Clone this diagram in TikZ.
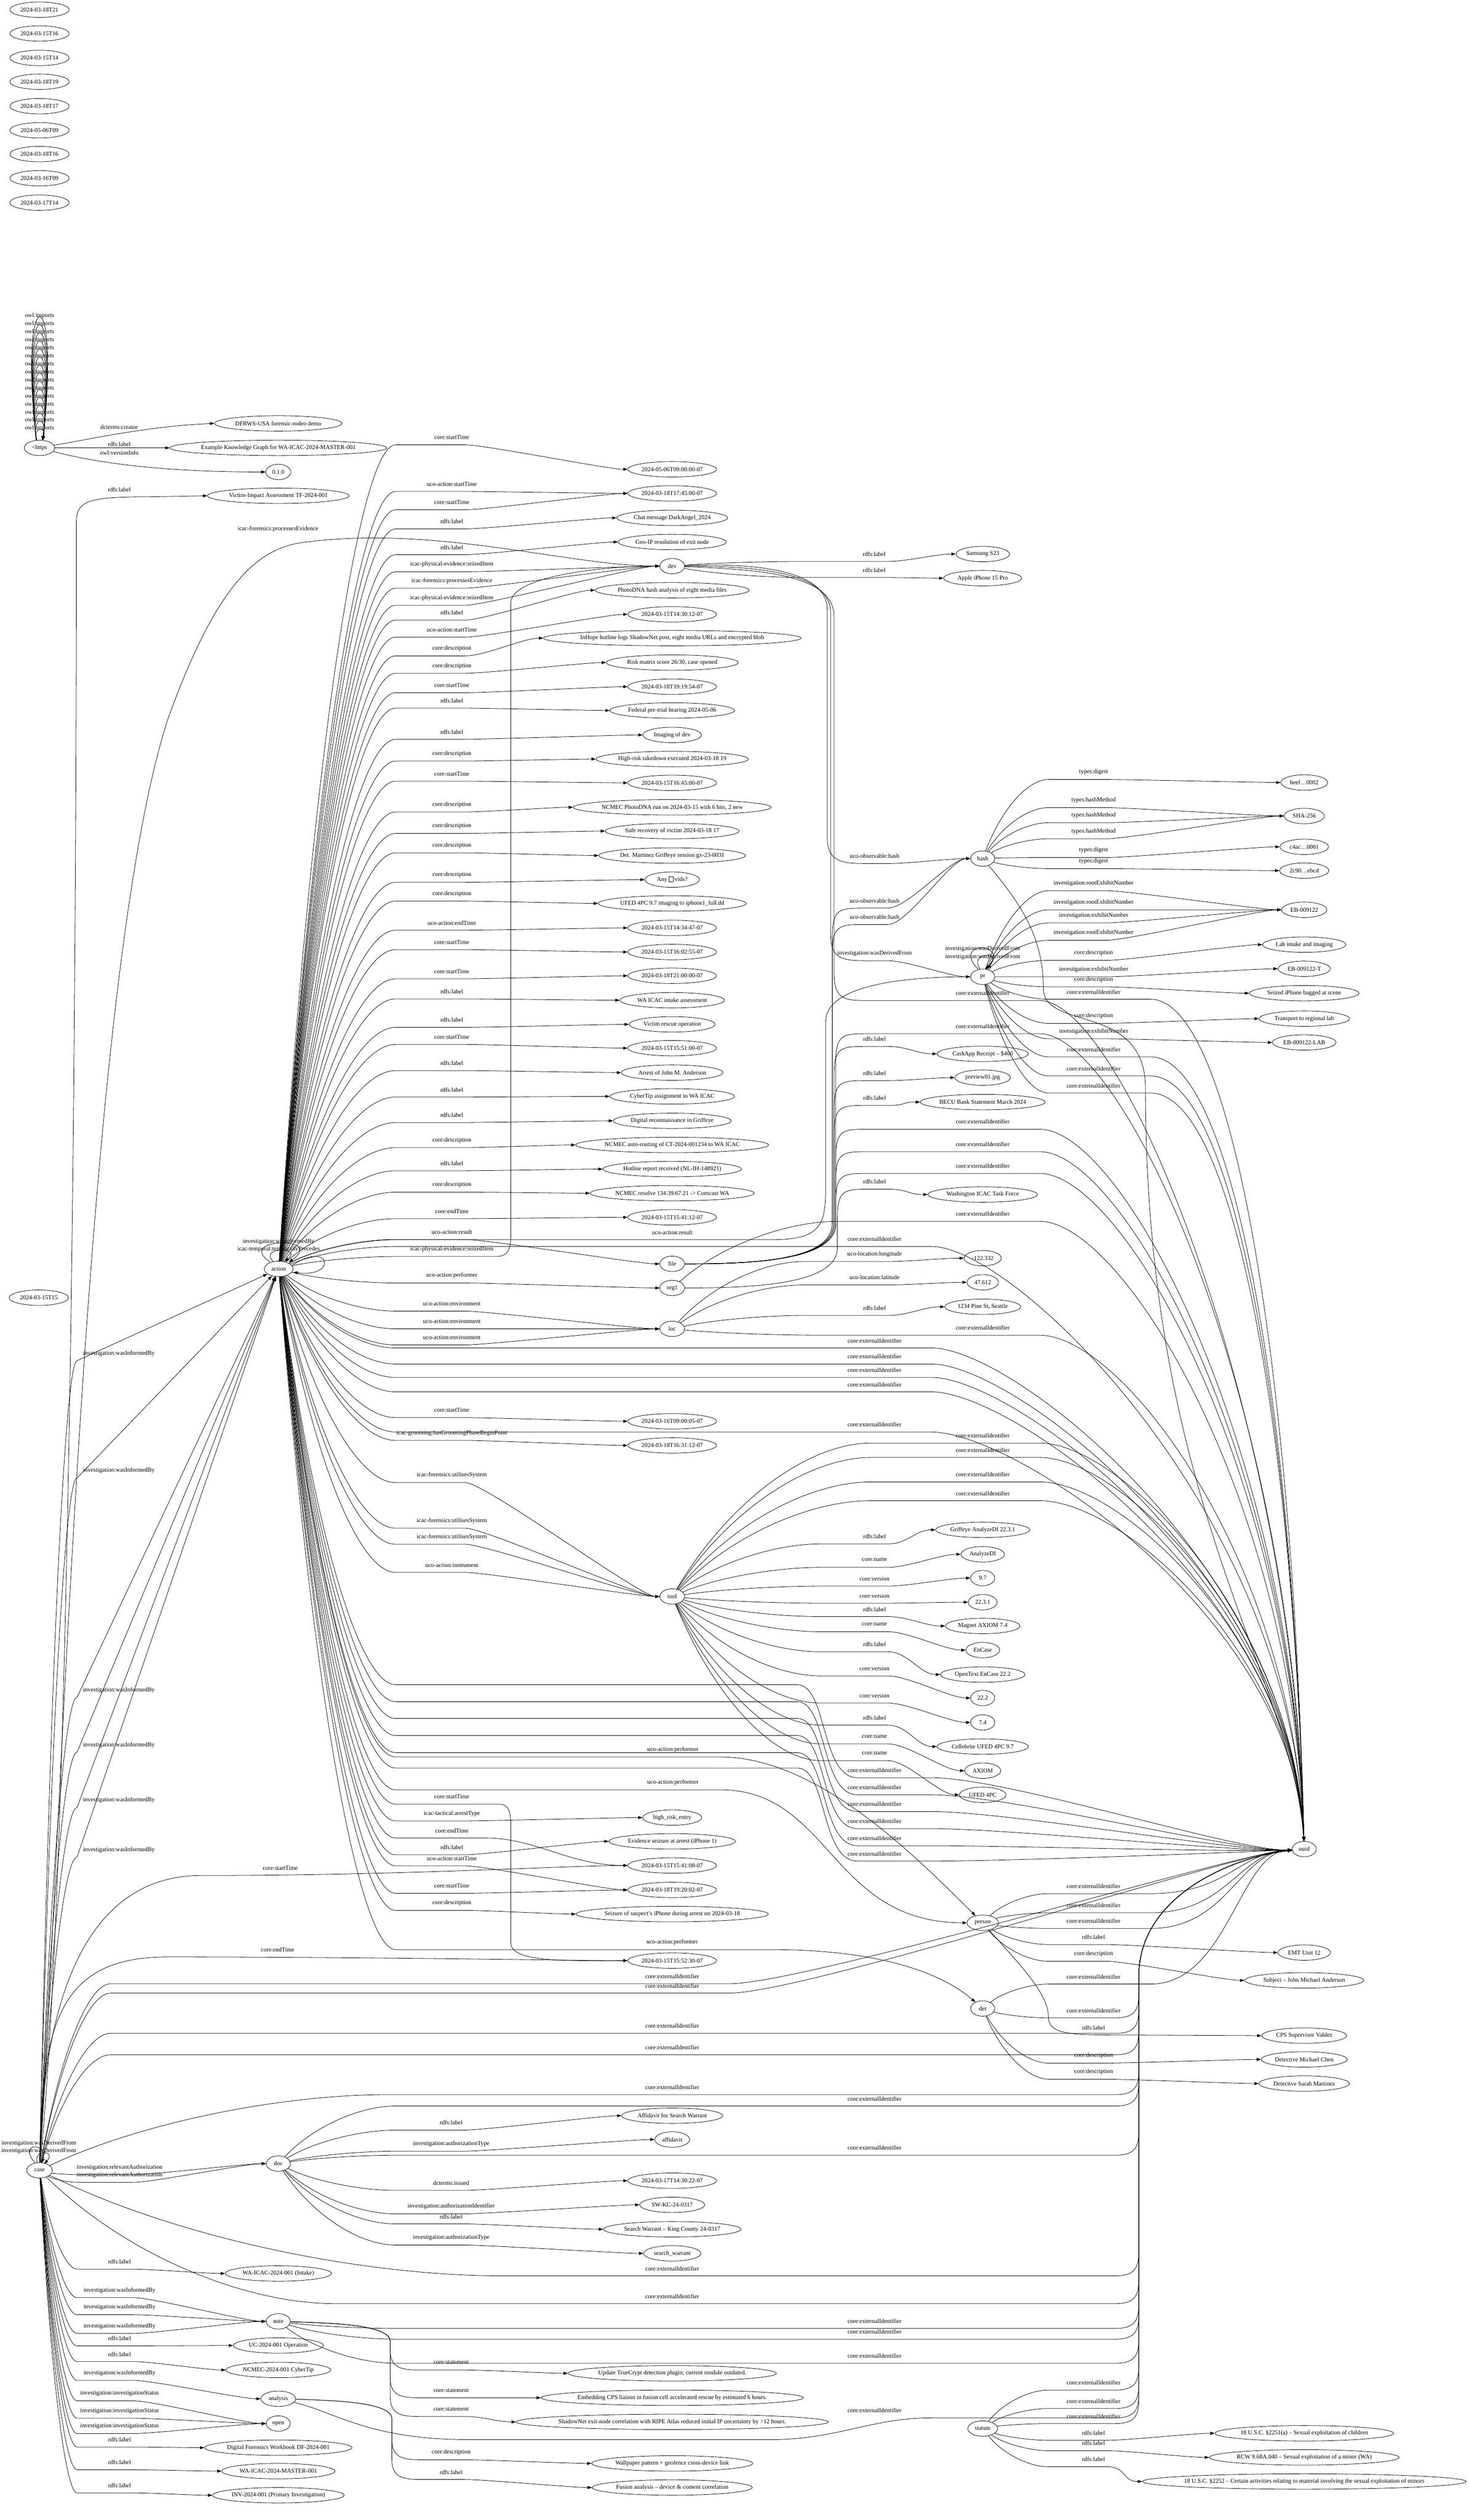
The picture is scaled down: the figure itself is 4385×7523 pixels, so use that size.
\documentclass[tikz,border=0pt]{standalone}
\usepackage{fontspec}
\setmainfont{Liberation Serif}
\usetikzlibrary{shapes.geometric,arrows.meta,calc}
\newcommand\fs{\fontsize{18}{21}\selectfont}
\newcommand\tofubox{{\setlength\fboxsep{0pt}\setlength\fboxrule{0.9pt}\fbox{\rule{0pt}{13pt}\hspace{12pt}}}}
\tikzset{
 e/.style={line width=1.2pt,-{Triangle[length=13pt,width=9pt]}},
 nd/.style={draw,line width=1.2pt,ellipse,inner sep=0pt,minimum height=46pt,font=\fs},
 lbl/.style={inner sep=0pt,font=\fs},
}
\newcommand\mynode[5]{\node[nd,minimum width=#4pt] (#1) at (#2,#3) {\makebox[0pt]{#5}};}
\newcommand\mylbl[3]{\node[lbl] at (#1,#2) {#3};}
\newcommand\efan[4]{%
 \pgfmathsetmacro\eyp{#4+22}%
 \pgfmathsetmacro\eax{#1+0.3*(#3-#1)}%
 \pgfmathsetmacro\eay{#2+0.65*(\eyp-#2)}%
 \pgfmathsetmacro\ebx{#1+0.7*(#3-#1)}}
% S sx sy kx lx ly T text
\newcommand\edg[8]{\efan{#2}{#3}{#4}{#6}%
 \pgfmathsetmacro\ehx{#5+40}\pgfmathsetmacro\ehc{#5+100}%
 \draw[e] (#1) .. controls (\eax,\eay) and (\ebx,\eyp) .. (#4,\eyp) -- (\ehx,\eyp) .. controls (\ehc,\eyp) and ($(#7.west)+(-60,0)$) .. (#7.west);
 \mylbl{#5}{#6}{#8}}
\newcommand\edgs[8]{\efan{#2}{#3}{#4}{#6}%
 \draw[e] (#1) .. controls (\eax,\eay) and (\ebx,\eyp) .. (#4,\eyp) -- (#7);
 \mylbl{#5}{#6}{#8}}
% vertical-knee edge going down: S sy vx lx ly T text
\newcommand\edv[7]{%
 \pgfmathsetmacro\eyp{#5+22}\pgfmathsetmacro\eyq{\eyp-60}\pgfmathsetmacro\eya{#2+5}\pgfmathsetmacro\eyb{#2+60}\pgfmathsetmacro\eyc{#2+10}%
 \pgfmathsetmacro\ehx{#4+40}\pgfmathsetmacro\ehc{#4+100}\pgfmathsetmacro\evx{#3+40}\pgfmathsetmacro\evy{#3-170}\pgfmathsetmacro\evz{#3+100}%
 \draw[e] (#1) .. controls (\evy,\eya) and (#3,\eyc) .. (#3,\eyb) -- (#3,\eyq) .. controls (#3,\eyp) and (\evx,\eyp) .. (\evz,\eyp) -- (\ehx,\eyp) .. controls (\ehc,\eyp) and ($(#6.west)+(-60,0)$) .. (#6.west);
 \mylbl{#4}{#5}{#7}}
% uuid edges: S sx sy kx lx ly
\newcommand\ueA[6]{\efan{#2}{#3}{#4}{#6}%
 \pgfmathsetmacro\ehx{#5+170}\pgfmathsetmacro\ehc{#5+420}\pgfmathsetmacro\eyc{\eyp+0.45*(5497-\eyp)}%
 \draw[e] (#1) .. controls (\eax,\eay) and (\ebx,\eyp) .. (#4,\eyp) -- (\ehx,\eyp) .. controls (\ehc,\eyp) and (3860,\eyc) .. (uuid);
 \mylbl{#5}{#6}{core:externalIdentifier}}
\newcommand\ueM[6]{\efan{#2}{#3}{#4}{#6}%
 \pgfmathsetmacro\ehx{#5+170}\pgfmathsetmacro\ehc{#5+400}%
 \draw[e] (#1) .. controls (\eax,\eay) and (\ebx,\eyp) .. (#4,\eyp) -- (\ehx,\eyp) .. controls (\ehc,\eyp) and (3700,5530) .. (uuid);
 \mylbl{#5}{#6}{core:externalIdentifier}}
\newcommand\ueMb[6]{\pgfmathsetmacro\eyq{#6-278}\efan{#2}{#3}{#4}{\eyq}%
 \pgfmathsetmacro\eyr{#6+22}\pgfmathsetmacro\ehx{#5+170}\pgfmathsetmacro\ehc{#5+400}%
 \draw[e] (#1) .. controls (\eax,\eay) and (\ebx,\eyp) .. (#4,\eyp) -- (2380,\eyp) .. controls (2470,\eyp) and (2450,\eyr) .. (2560,\eyr) -- (\ehx,\eyr) .. controls (\ehc,\eyr) and (3700,5530) .. (uuid);
 \mylbl{#5}{#6}{core:externalIdentifier}}
\newcommand\ueB[6]{\efan{#2}{#3}{#4}{#6}%
 \pgfmathsetmacro\eyu{\eyp-30}\pgfmathsetmacro\eyv{\eyp-80}%
 \draw[e] (#1) .. controls (\eax,\eay) and (\ebx,\eyp) .. (#4,\eyp) -- (3330,\eyp) .. controls (3395,\eyp) and (3400,\eyu) .. (3400,\eyv) -- (3400,5900) .. controls (3400,5650) and (3700,5540) .. (uuid);
 \mylbl{#5}{#6}{core:externalIdentifier}}
% bundle up: S sy bx lx ly T text
\newcommand\ebu[7]{%
 \pgfmathsetmacro\eyp{#5+22}\pgfmathsetmacro\eya{#2-10}\pgfmathsetmacro\eyb{#2-120}\pgfmathsetmacro\eyq{\eyp+90}%
 \pgfmathsetmacro\ehx{#4+40}\pgfmathsetmacro\ehc{#4+100}\pgfmathsetmacro\ebb{#3+20}\pgfmathsetmacro\ebc{#3+100}%
 \draw[e] (#1) .. controls (2250,#2) and (#3,\eya) .. (#3,\eyb) -- (#3,\eyq) .. controls (#3,\eyp) and (\ebb,\eyp) .. (\ebc,\eyp) -- (\ehx,\eyp) .. controls (\ehc,\eyp) and ($(#6.west)+(-60,0)$) .. (#6.west);
 \mylbl{#4}{#5}{#7}}
\newcommand\ebuu[5]{%
 \pgfmathsetmacro\eyp{#5+22}\pgfmathsetmacro\eya{#2-10}\pgfmathsetmacro\eyb{#2-120}\pgfmathsetmacro\eyq{\eyp+90}%
 \pgfmathsetmacro\ehx{#4+170}\pgfmathsetmacro\ehc{#4+420}\pgfmathsetmacro\ebb{#3+20}\pgfmathsetmacro\ebc{#3+100}%
 \pgfmathsetmacro\eyc{\eyp+0.45*(5497-\eyp)}%
 \draw[e] (#1) .. controls (2250,#2) and (#3,\eya) .. (#3,\eyb) -- (#3,\eyq) .. controls (#3,\eyp) and (\ebb,\eyp) .. (\ebc,\eyp) -- (\ehx,\eyp) .. controls (\ehc,\eyp) and (3860,\eyc) .. (uuid);
 \mylbl{#4}{#5}{core:externalIdentifier}}
\begin{document}
\begin{tikzpicture}[x=1pt,y=-1pt]
\fill[white] (0,0) rectangle (4385,7523);
\useasboundingbox (0,0) rectangle (4385,7523);
% ---------- nodes: left ----------
\mynode{d1}{118}{29}{177}{2024-03-18T21}
\mynode{d2}{118}{100}{177}{2024-03-15T16}
\mynode{d3}{118}{173}{177}{2024-03-15T14}
\mynode{d4}{118}{244}{177}{2024-03-18T19}
\mynode{d5}{118}{317}{177}{2024-03-18T17}
\mynode{d6}{118}{389}{177}{2024-05-06T09}
\mynode{d7}{118}{460}{177}{2024-03-18T16}
\mynode{d8}{118}{532}{177}{2024-03-16T09}
\mynode{d9}{118}{605}{177}{2024-03-17T14}
\mynode{https}{118}{1337}{91}{<https}
\mynode{d15}{116}{3874}{177}{2024-03-15T15}
\mynode{case}{118}{6479}{76}{case}
% ---------- column 831 ----------
\mynode{dfrws}{831}{1264}{381}{DFRWS-USA forensic-rodeo demo}
\mynode{ekg}{831}{1337}{648}{Example Knowledge Graph for WA-ICAC-2024-MASTER-001}
\mynode{ver}{831}{1409}{75}{0.1.0}
\mynode{via}{831}{1480}{423}{Victim-Impact Assessment TF-2024-001}
\mynode{action}{832}{3788}{86}{action}
\mynode{doc}{831}{6459}{72}{doc}
\mynode{intake}{831}{6787}{317}{WA-ICAC-2024-001 (Intake)}
\mynode{note}{831}{6930}{72}{note}
\mynode{ucop}{831}{7002}{269}{UC-2024-001 Operation}
\mynode{ncmecct}{831}{7075}{313}{NCMEC-2024-001 CyberTip}
\mynode{analysis}{831}{7161}{104}{analysis}
\mynode{open}{831}{7235}{72}{open}
\mynode{dfwb}{831}{7307}{440}{Digital Forensics Workbook DF-2024-001}
\mynode{master}{831}{7377}{338}{WA-ICAC-2024-MASTER-001}
\mynode{inv}{831}{7449}{393}{INV-2024-001 (Primary Investigation)}
% ---------- column 2007 ----------
\mynode{t01}{2007}{1401}{265}{2024-05-06T09:00:00-07}
\mynode{t02}{2007}{1473}{265}{2024-03-18T17:45:00-07}
\mynode{chat}{2007}{1546}{331}{Chat message DarkAngel\_2024}
\mynode{geo}{2007}{1618}{323}{Geo-IP resolution of exit node}
\mynode{dev}{2007}{1690}{74}{dev}
\mynode{photodna}{2007}{1762}{460}{PhotoDNA hash analysis of eight media files}
\mynode{t03}{2007}{1834}{265}{2024-03-15T14:30:12-07}
\mynode{inhope}{2007}{1905}{769}{InHope hotline logs ShadowNet post, eight media URLs and encrypted blob}
\mynode{risk}{2007}{1978}{394}{Risk matrix score 26/30, case opened}
\mynode{t04}{2007}{2050}{265}{2024-03-18T19:19:54-07}
\mynode{federal}{2007}{2121}{372}{Federal pre-trial hearing 2024-05-06}
\mynode{imaging}{2007}{2194}{175}{Imaging of dev}
\mynode{highrisk}{2007}{2266}{455}{High-risk takedown executed 2024-03-18 19}
\mynode{t05}{2007}{2337}{265}{2024-03-15T16:45:00-07}
\mynode{ncmecpd}{2007}{2410}{591}{NCMEC PhotoDNA run on 2024-03-15 with 6 hits, 2 new}
\mynode{safe}{2007}{2481}{400}{Safe recovery of victim 2024-03-18 17}
\mynode{detm}{2007}{2554}{438}{Det. Martinez Griffeye session gx-23-0031}
\mynode{anyv}{2007}{2626}{163}{Any \tofubox{} vids?}
\mynode{ufedimg}{2007}{2697}{442}{UFED 4PC 9.7 imaging to iphone1\_full.dd}
\mynode{t06}{2007}{2770}{265}{2024-03-15T14:34:47-07}
\mynode{t07}{2007}{2842}{265}{2024-03-15T16:02:55-07}
\mynode{t08}{2007}{2913}{265}{2024-03-18T21:00:00-07}
\mynode{waintake}{2007}{2986}{312}{WA ICAC intake assessment}
\mynode{rescue}{2007}{3058}{257}{Victim rescue operation}
\mynode{t09}{2007}{3129}{265}{2024-03-15T15:51:00-07}
\mynode{arrest}{2007}{3202}{304}{Arrest of John M. Anderson}
\mynode{cybertip}{2007}{3273}{372}{CyberTip assignment to WA ICAC}
\mynode{recon}{2007}{3346}{352}{Digital reconnaissance in Griffeye}
\mynode{autoroute}{2007}{3418}{576}{NCMEC auto-routing of CT-2024-001234 to WA ICAC}
\mynode{hotline}{2007}{3490}{414}{Hotline report received (NL-IH-148921)}
\mynode{resolve}{2007}{3562}{490}{NCMEC resolve 134.39.67.21 -> Comcast WA}
\mynode{t10}{2007}{3634}{265}{2024-03-15T15:41:12-07}
\mynode{file}{2007}{3773}{74}{file}
\mynode{org1}{2007}{3845}{74}{org1}
\mynode{loc}{2007}{3967}{74}{loc}
\mynode{t11}{2007}{4243}{265}{2024-03-16T09:00:05-07}
\mynode{t12}{2007}{4315}{265}{2024-03-18T16:31:12-07}
\mynode{tool}{2007}{4766}{74}{tool}
\mynode{hre}{2007}{5426}{176}{high\_risk\_entry}
\mynode{evseiz}{2007}{5497}{378}{Evidence seizure at arrest (iPhone 1)}
\mynode{t13}{2007}{5569}{265}{2024-03-15T15:41:08-07}
\mynode{t14}{2007}{5642}{265}{2024-03-18T19:20:02-07}
\mynode{seizure}{2007}{5714}{574}{Seizure of suspect's iPhone during arrest on 2024-03-18}
\mynode{t15}{2007}{5853}{265}{2024-03-15T15:52:30-07}
\mynode{affid}{2007}{6316}{302}{Affidavit for Search Warrant}
\mynode{affidavit}{2007}{6387}{104}{affidavit}
\mynode{t16}{2007}{6510}{265}{2024-03-17T14:30:22-07}
\mynode{swkc}{2007}{6582}{194}{SW-KC-24-0317}
\mynode{swkcl}{2007}{6655}{411}{Search Warrant – King County 24-0317}
\mynode{sw}{2007}{6727}{171}{search\_warrant}
\mynode{truecrypt}{2007}{7085}{622}{Update TrueCrypt detection plugin; current module outdated.}
\mynode{embed}{2007}{7158}{783}{Embedding CPS liaison in fusion cell accelerated rescue by estimated 6 hours.}
\mynode{shadow}{2007}{7230}{932}{ShadowNet exit-node correlation with RIPE Atlas reduced initial IP uncertainty by >12 hours.}
\mynode{wallpaper}{2007}{7354}{481}{Wallpaper pattern + geofence cross-device link}
\mynode{fusion}{2007}{7426}{478}{Fusion analysis – device \& content correlation}
% ---------- column 2934 ----------
\mynode{samsung}{2934}{1654}{160}{Samsung S23}
\mynode{apple}{2934}{1726}{233}{Apple iPhone 15 Pro}
\mynode{hash}{2934}{2563}{72}{hash}
\mynode{pr}{2934}{2916}{72}{pr}
\mynode{cashapp}{2934}{3146}{273}{CashApp Receipt – \$400}
\mynode{preview}{2934}{3217}{166}{preview01.jpg}
\mynode{becu}{2934}{3290}{373}{BECU Bank Statement March 2024}
\mynode{waicac}{2934}{3566}{327}{Washington ICAC Task Force}
\mynode{lon}{2934}{3756}{111}{-122.332}
\mynode{lat}{2934}{3828}{94}{47.612}
\mynode{pine}{2934}{3901}{227}{1234 Pine St, Seattle}
\mynode{griffeye}{2934}{4567}{281}{Griffeye AnalyzeDI 22.3.1}
\mynode{analyzedi}{2934}{4640}{130}{AnalyzeDI}
\mynode{v97}{2934}{4711}{72}{9.7}
\mynode{v2231}{2934}{4783}{86}{22.3.1}
\mynode{magnet}{2934}{4854}{223}{Magnet AXIOM 7.4}
\mynode{encase}{2934}{4926}{101}{EnCase}
\mynode{opentext}{2934}{4999}{253}{OpenText EnCase 22.2}
\mynode{v222}{2934}{5069}{72}{22.2}
\mynode{v74}{2934}{5142}{72}{7.4}
\mynode{cellebrite}{2934}{5214}{273}{Cellebrite UFED 4PC 9.7}
\mynode{axiom}{2934}{5286}{108}{AXIOM}
\mynode{ufedpc}{2934}{5358}{139}{UFED 4PC}
\mynode{person}{2934}{5740}{94}{person}
\mynode{det}{2934}{5996}{72}{det}
\mynode{statute}{2934}{7250}{89}{statute}
% ---------- column 3894 ----------
\mynode{beef}{3894}{2336}{140}{beef…0002}
\mynode{sha}{3894}{2436}{120}{SHA-256}
\mynode{cfac}{3894}{2528}{145}{c4ac…0001}
\mynode{ctn}{3894}{2599}{147}{2c90…ebcd}
\mynode{eb}{3894}{2716}{135}{EB-009122}
\mynode{labintake}{3894}{2820}{249}{Lab intake and imaging}
\mynode{ebt}{3894}{2892}{156}{EB-009122-T}
\mynode{bagged}{3894}{2965}{327}{Seized iPhone bagged at scene}
\mynode{transport}{3894}{3041}{270}{Transport to regional lab}
\mynode{eblab}{3894}{3112}{190}{EB-009122-LAB}
\mynode{uuid}{3894}{5520}{72}{uuid}
\mynode{emt}{3894}{5829}{157}{EMT Unit 12}
\mynode{subject}{3894}{5912}{356}{Subject – John Michael Anderson}
\mynode{cps}{3894}{6077}{254}{CPS Supervisor Valdez}
\mynode{chen}{3894}{6148}{257}{Detective Michael Chen}
\mynode{martinez}{3894}{6220}{270}{Detective Sarah Martinez}
\mynode{sa}{3894}{7264}{534}{18 U.S.C. §2251(a) – Sexual exploitation of children}
\mynode{rcw}{3894}{7336}{567}{RCW 9.68A.040 – Sexual exploitation of a minor (WA)}
\mynode{sb}{3894}{7408}{967}{18 U.S.C. §2252 – Certain activities relating to material involving the sexual exploitation of minors}
% ---------- <https ----------
\foreach \i in {0,...,14}{%
 \pgfmathsetmacro\lyv{943+24*\i}%
 \pgfmathsetmacro\yc{1315-(1315-(\lyv+4))/0.75}%
 \pgfmathsetmacro\xa{118-(22+3.2*(14-\i))}\pgfmathsetmacro\xb{118+(22+3.2*(14-\i))}%
 \draw[e] (109,1315) .. controls (\xa,\yc) and (\xb,\yc) .. (127,1315);
 \mylbl{118}{\lyv}{owl:imports}}
\draw[e] (https) .. controls (300,1305) and (450,1272) .. (dfrws.west);
\mylbl{356}{1275}{dcterms:creator}
\draw[e] (https) -- (ekg);
\mylbl{356}{1326}{rdfs:label}
\draw[e] (https) .. controls (300,1385) and (500,1409) .. (ver.west);
\mylbl{356}{1352}{owl:versionInfo}
% ---------- case ----------
\draw[e] (105,6457) .. controls (50,6395) and (145,6395) .. (125,6457);
\draw[e] (112,6457) .. controls (95,6418) and (170,6418) .. (132,6460);
\mylbl{116}{6399}{investigation:wasDerivedFrom}
\mylbl{116}{6421}{investigation:wasDerivedFrom}
\foreach \lyv in {4040,4390,5045,5209,5374,5522}{\edgs{case}{118}{6479}{230}{355}{\lyv}{action}{investigation:wasInformedBy}}
\foreach \lyv/\tgv/\txv in {6470/doc/investigation:relevantAuthorization,6493/doc/investigation:relevantAuthorization,6752/intake/rdfs:label,6837/note/investigation:wasInformedBy,6888/note/investigation:wasInformedBy,6944/note/investigation:wasInformedBy,6981/ucop/rdfs:label,7028/ncmecct/rdfs:label,7084/analysis/investigation:wasInformedBy,7145/open/investigation:investigationStatus,7197/open/investigation:investigationStatus,7243/open/investigation:investigationStatus,7283/dfwb/rdfs:label,7351/master/rdfs:label,7420/inv/rdfs:label}{\edg{case}{118}{6479}{230}{357}{\lyv}{\tgv}{\txv}}
\draw[e] (case) .. controls (205,5600) and (228,3200) .. (228,1560) .. controls (228,1495) and (260,1483) .. (450,1483) -- (via.west);
\mylbl{356}{1461}{rdfs:label}
\draw[e] (case) .. controls (195,5200) and (260,2900) .. (500,2150) .. controls (640,1760) and (760,1640) .. (900,1620) .. controls (1300,1565) and (1700,1690) .. (dev.west);
\mylbl{830}{1579}{icac-forensics:processesEvidence}
\draw[e] (case) .. controls (125,6100) and (200,5599) .. (600,5599) .. controls (1200,5599) and (1700,5569) .. (t13.west);
\mylbl{837}{5577}{core:startTime}
\draw[e] (case) .. controls (125,6050) and (170,5842) .. (500,5842) .. controls (1100,5842) and (1700,5853) .. (t15.west);
\mylbl{829}{5820}{core:endTime}
\ueM{case}{118}{6479}{330}{2007}{5900}
\ueM{case}{118}{6479}{330}{2007}{5928}
\ueB{case}{118}{6479}{330}{2007}{6048}
\ueB{case}{118}{6479}{330}{2007}{6112}
\ueB{case}{118}{6479}{1160}{2007}{6231}
\ueB{case}{118}{6479}{1500}{2007}{6772}
\ueB{case}{118}{6479}{1000}{2007}{6855}
% ---------- action ----------
\draw[e] (806,3767) .. controls (700,3695) and (975,3690) .. (862,3768);
\draw[e] (816,3766) .. controls (770,3722) and (905,3722) .. (850,3766);
\draw[e] (872,3778) .. controls (985,3700) and (1010,3815) .. (876,3798);
\mylbl{832}{3706}{investigation:wasInformedBy}
\mylbl{832}{3730}{icac-temporal:temporallyPrecedes}
\foreach \lyv/\tgv/\txv in {1306/t01/core:startTime,1445/t02/uco-action:startTime,1500/t02/core:startTime,1557/chat/rdfs:label,1634/geo/rdfs:label,1685/dev/icac-physical-evidence:seizedItem,1734/dev/icac-forensics:processesEvidence,1785/dev/icac-physical-evidence:seizedItem,1829/photodna/rdfs:label,1880/t03/uco-action:startTime,1936/inhope/core:description,1988/risk/core:description,2046/t04/core:startTime,2092/federal/rdfs:label,2185/imaging/rdfs:label,2250/highrisk/core:description,2310/t05/core:startTime,2402/ncmecpd/core:description,2466/safe/core:description,2524/detm/core:description,2612/anyv/core:description,2668/ufedimg/core:description,2755/t06/uco-action:endTime,2813/t07/core:startTime,2900/t08/core:startTime,2960/waintake/rdfs:label,3045/rescue/rdfs:label,3096/t09/core:startTime,3174/arrest/rdfs:label,3253/cybertip/rdfs:label,3329/recon/rdfs:label,3404/autoroute/core:description,3473/hotline/rdfs:label,3537/resolve/core:description,3616/t10/core:endTime,3678/file/uco-action:result,3808/org1/uco-action:performer,3892/loc/uco-action:environment,3945/loc/uco-action:environment,3993/loc/uco-action:environment,4210/t11/core:startTime,4278/t12/icac-grooming:hasGroomingPhaseBeginPoint,4404/tool/icac-forensics:utilisesSystem,4540/tool/icac-forensics:utilisesSystem,4588/tool/icac-forensics:utilisesSystem,4672/tool/uco-action:instrument,5414/hre/icac-tactical:arrestType,5515/evseiz/rdfs:label,5548/t14/uco-action:startTime,5630/t14/core:startTime,5681/seizure/core:description}{\edg{action}{832}{3788}{1181}{1349}{\lyv}{\tgv}{\txv}}
\efan{832}{3788}{1181}{3729}
\draw[e] (action) .. controls (\eax,\eay) and (\ebx,\eyp) .. (1181,\eyp) -- (1480,\eyp) .. controls (1525,\eyp) and (1525,3720) .. (1525,3670) -- (1525,1800) .. controls (1525,1720) and (1800,1690) .. (dev.west);
\mylbl{1349}{3729}{icac-physical-evidence:seizedItem}
\efan{832}{3788}{1181}{3679}
\draw[e] (action) .. controls (\eax,\eay) and (\ebx,\eyp) .. (1181,\eyp) -- (2300,\eyp) .. controls (2465,\eyp) and (2465,3650) .. (2465,3520) -- (2465,3050) .. controls (2465,2930) and (2750,2916) .. (pr.west);
\mylbl{2007}{3679}{uco-action:result}
\efan{832}{3788}{1181}{5223}
\draw[e] (action) .. controls (\eax,\eay) and (\ebx,\eyp) .. (1181,\eyp) -- (2150,\eyp) .. controls (2450,\eyp) and (2750,5560) .. (person);
\mylbl{2009}{5223}{uco-action:performer}
\efan{832}{3788}{1181}{5321}
\draw[e] (action) .. controls (\eax,\eay) and (\ebx,\eyp) .. (1181,\eyp) -- (2150,\eyp) .. controls (2480,\eyp) and (2480,5740) .. (person.west);
\mylbl{2009}{5321}{uco-action:performer}
\efan{832}{3788}{1181}{5798}
\draw[e] (action) .. controls (\eax,\eay) and (\ebx,\eyp) .. (1181,\eyp) -- (2300,\eyp) .. controls (2600,\eyp) and (2800,5880) .. (det);
\mylbl{2007}{5798}{uco-action:performer}
\efan{832}{3788}{1181}{5364}
\draw[e] (action) .. controls (\eax,\eay) and (\ebx,\eyp) .. (1181,\eyp) -- (1490,\eyp) .. controls (1525,\eyp) and (1525,5420) .. (1525,5460) -- (1525,5800) .. controls (1525,5860) and (1700,5853) .. (t15.west);
\mylbl{1349}{5364}{core:startTime}
\efan{832}{3788}{1181}{5465}
\draw[e] (action) .. controls (\eax,\eay) and (\ebx,\eyp) .. (1181,\eyp) -- (1450,\eyp) .. controls (1600,\eyp) and (1700,5569) .. (t13.west);
\mylbl{1349}{5465}{core:endTime}
\foreach \lyv in {3699,4002,4050,4090,4133,4253}{\ueA{action}{832}{3788}{1181}{2611}{\lyv}}
\foreach \lyv in {5285,5336,5386,5437,5488,5534}{\ueMb{action}{832}{3788}{1181}{2611}{\lyv}}
% ---------- doc / note / analysis ----------
\foreach \lyv/\tgv/\txv in {6337/affid/rdfs:label,6400/affidavit/investigation:authorizationType,6517/t16/dcterms:issued,6587/swkc/investigation:authorizationIdentifier,6617/swkcl/rdfs:label,6680/sw/investigation:authorizationType}{\edg{doc}{831}{6459}{1181}{1347}{\lyv}{\tgv}{\txv}}
\ueB{doc}{831}{6459}{1181}{2611}{6265}
\ueB{doc}{831}{6459}{1181}{2611}{6412}
\foreach \lyv/\tgv in {7053/truecrypt,7136/embed,7192/shadow}{\edv{note}{6930}{1165}{1347}{\lyv}{\tgv}{core:statement}}
\foreach \lyv in {6929,6961,7033}{\ueB{note}{831}{6930}{1181}{2611}{\lyv}}
\edv{analysis}{7161}{1170}{1347}{7321}{wallpaper}{core:description}
\edv{analysis}{7161}{1170}{1347}{7380}{fusion}{rdfs:label}
\draw[e] (analysis) .. controls (1000,7200) and (1100,7283) .. (1400,7283) -- (2300,7283) .. controls (2500,7283) and (2600,7218) .. (2781,7218) -- (3330,7218) .. controls (3395,7218) and (3400,7188) .. (3400,7138) -- (3400,5900) .. controls (3400,5650) and (3700,5540) .. (uuid);
\mylbl{2611}{7196}{core:externalIdentifier}
% ---------- dev ----------
\edg{dev}{2007}{1690}{2400}{2610}{1654}{samsung}{rdfs:label}
\edg{dev}{2007}{1690}{2400}{2610}{1702}{apple}{rdfs:label}
\draw[e] (dev) .. controls (2250,1680) and (2470,1700) .. (2470,1820) -- (2470,2500) .. controls (2470,2578) and (2520,2578) .. (2600,2578) -- (2650,2578) .. controls (2710,2578) and ($(hash.west)+(-60,0)$) .. (hash.west);
\mylbl{2611}{2556}{uco-observable:hash}
\draw[e] (dev) .. controls (2250,1690) and (2480,1705) .. (2480,1830) -- (2480,2790) .. controls (2480,2868) and (2520,2868) .. (2600,2868) -- (2650,2868) .. controls (2710,2868) and ($(pr.west)+(-60,0)$) .. (pr.west);
\mylbl{2611}{2846}{investigation:wasDerivedFrom}
\draw[e] (dev) .. controls (2250,1700) and (2490,1710) .. (2490,1840) -- (2490,2900) .. controls (2490,2987) and (2520,2987) .. (2600,2987) -- (3104,2987) .. controls (3354,2987) and (3860,4230) .. (uuid);
\mylbl{2934}{2965}{core:externalIdentifier}
% ---------- file / org1 / loc ----------
\ebu{file}{3773}{2485}{2611}{2689}{hash}{uco-observable:hash}
\ebu{file}{3773}{2485}{2611}{2738}{hash}{uco-observable:hash}
\ebu{file}{3773}{2490}{2611}{3102}{cashapp}{rdfs:label}
\ebu{file}{3773}{2490}{2611}{3204}{preview}{rdfs:label}
\ebu{file}{3773}{2490}{2611}{3278}{becu}{rdfs:label}
\ebuu{file}{3773}{2495}{2934}{3064}
\ebuu{file}{3773}{2495}{2934}{3349}
\ebuu{file}{3773}{2495}{2934}{3416}
\ebuu{file}{3773}{2495}{2934}{3481}
\ebu{org1}{3845}{2500}{2611}{3528}{waicac}{rdfs:label}
\ueA{org1}{2007}{3845}{2500}{2934}{3624}
\edg{loc}{2007}{3967}{2400}{2611}{3744}{lon}{uco-location:longitude}
\edg{loc}{2007}{3967}{2400}{2611}{3814}{lat}{uco-location:latitude}
\edg{loc}{2007}{3967}{2400}{2611}{3905}{pine}{rdfs:label}
\ueA{loc}{2007}{3967}{2450}{2934}{3964}
% ---------- tool ----------
\foreach \lyv/\tgv/\txv in {4587/griffeye/rdfs:label,4657/analyzedi/core:name,4713/v97/core:version,4764/v2231/core:version,4804/magnet/rdfs:label,4849/encase/core:name,4909/opentext/rdfs:label,4981/v222/core:version,5062/v74/core:version,5128/cellebrite/rdfs:label,5184/axiom/core:name,5234/ufedpc/core:name}{\edg{tool}{2007}{4766}{2450}{2611}{\lyv}{\tgv}{\txv}}
\foreach \lyv in {4286,4329,4402,4458}{\ueA{tool}{2007}{4766}{2600}{2934}{\lyv}}
% ---------- hash / pr ----------
\foreach \lyv/\tgv/\txv in {2305/beef/types:digest,2389/sha/types:hashMethod,2434/sha/types:hashMethod,2482/sha/types:hashMethod,2538/cfac/types:digest,2571/ctn/types:digest}{\edg{hash}{2934}{2563}{3130}{3265}{\lyv}{\tgv}{\txv}}
\draw[e] (hash) .. controls (3050,2700) and (3115,2800) .. (3115,2950) .. controls (3115,3080) and (3420,2990) .. (3420,3250) .. controls (3420,4500) and (3860,5000) .. (uuid);
\draw[e] (2920,2893) .. controls (2840,2810) and (3010,2810) .. (2948,2893);
\draw[e] (2926,2893) .. controls (2890,2840) and (3000,2840) .. (2942,2893);
\mylbl{2934}{2833}{investigation:wasDerivedFrom}
\mylbl{2934}{2857}{investigation:wasDerivedFrom}
\foreach \lyv/\tgv/\txv in {2637/eb/investigation:rootExhibitNumber,2694/eb/investigation:rootExhibitNumber,2733/eb/investigation:exhibitNumber,2785/eb/investigation:rootExhibitNumber,2845/labintake/core:description,2894/ebt/investigation:exhibitNumber,2924/bagged/core:description,3033/transport/core:description,3079/eblab/investigation:exhibitNumber}{\edg{pr}{2934}{2916}{3130}{3265}{\lyv}{\tgv}{\txv}}
\foreach \lyv in {2961,3133,3190,3241}{\ueA{pr}{2934}{2916}{3130}{3265}{\lyv}}
% ---------- person / det / statute ----------
\foreach \lyv in {5631,5688,5735}{\ueM{person}{2934}{5740}{3130}{3265}{\lyv}}
\edg{person}{2934}{5740}{3130}{3265}{5783}{emt}{rdfs:label}
\edg{person}{2934}{5740}{3130}{3265}{5833}{subject}{core:description}
\draw[e] (person) .. controls (3040,5860) and (3130,5950) .. (3130,6020) .. controls (3130,6075) and (3200,6075) .. (3350,6075) -- (cps.west);
\mylbl{3265}{6053}{rdfs:label}
\ueM{det}{2934}{5996}{3130}{3265}{5901}
\ueB{det}{2934}{5996}{3130}{3265}{6002}
\edg{det}{2934}{5996}{3130}{3265}{6137}{chen}{core:description}
\edg{det}{2934}{5996}{3130}{3265}{6185}{martinez}{core:description}
\foreach \lyv in {7113,7168,7213}{\ueB{statute}{2934}{7250}{3130}{3265}{\lyv}}
\edg{statute}{2934}{7250}{3130}{3265}{7263}{sa}{rdfs:label}
\edg{statute}{2934}{7250}{3130}{3265}{7294}{rcw}{rdfs:label}
\edg{statute}{2934}{7250}{3130}{3265}{7342}{sb}{rdfs:label}
\end{tikzpicture}
\end{document}
